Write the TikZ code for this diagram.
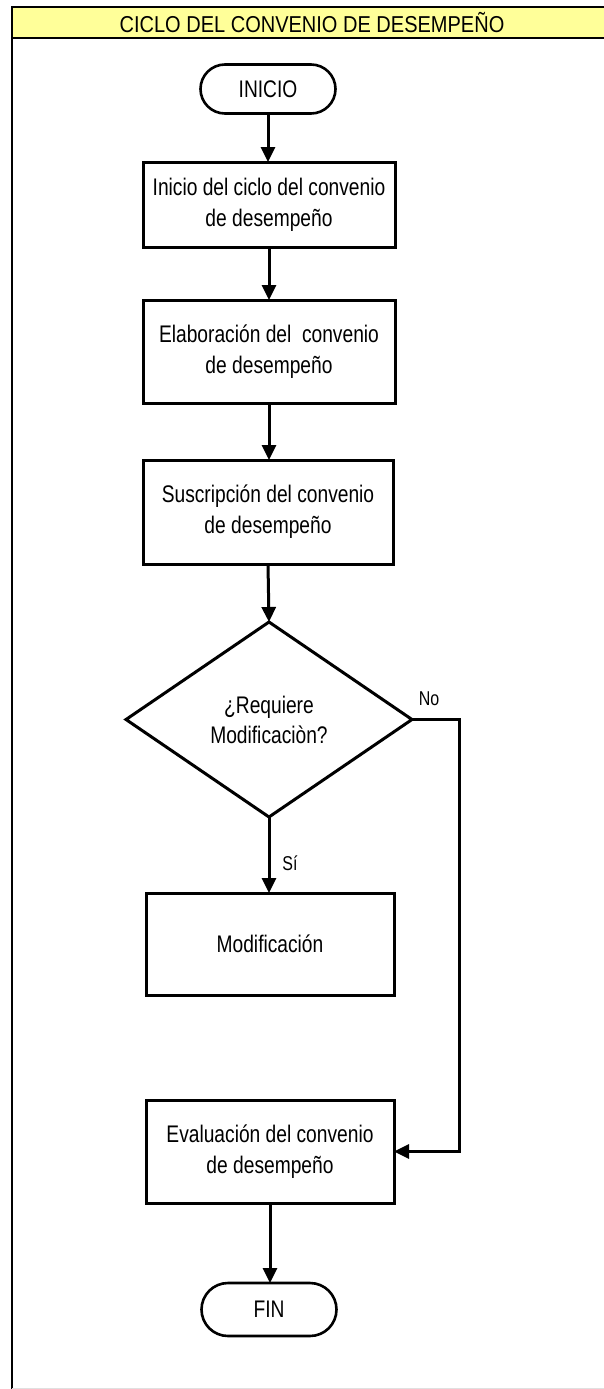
\documentclass[tikz,border=0pt]{standalone}
\usepackage{fontspec}
\setmainfont{Liberation Sans}
\newfontfamily\nar[FakeStretch=0.8]{Liberation Sans}
\newfontfamily\hdr[FakeStretch=0.87]{Liberation Sans}
\usetikzlibrary{arrows.meta,shapes.geometric,shapes.misc}
\definecolor{hdryellow}{RGB}{255,255,153}
\begin{document}
\begin{tikzpicture}[x=1pt,y=-1pt,
  every node/.style={inner sep=0pt, outer sep=0pt},
  procbox/.style={draw, line width=3pt, rectangle, fill=white,
    align=center, font=\nar\fontsize{24}{31}\selectfont},
  termbox/.style={draw, line width=2.6pt, rounded rectangle, fill=white,
    font=\nar\fontsize{24}{29}\selectfont},
  decbox/.style={draw, line width=3pt, diamond, fill=white, align=center,
    font=\nar\fontsize{24}{30}\selectfont},
  flow/.style={line width=3pt, -{Triangle[length=15pt,width=14pt]}},
  lbl/.style={font=\nar\fontsize{20}{24}\selectfont},
]
\useasboundingbox (0,0) rectangle (604,1389);
\fill[white] (0,0) rectangle (604,1389);

% frame and title band
\fill[hdryellow] (12,7) rectangle (604,38);
\draw[line width=2pt] (604,7) -- (12,7) -- (12,1389);
\draw[line width=2pt] (12,38) -- (604,38);
\draw[black!12, line width=1pt] (12,1388.5) -- (604,1388.5);
\node[font=\hdr\fontsize{23}{27}\selectfont] (title) at (312,22.5)
  {CICLO DEL CONVENIO DE DESEMPEÑO};

% steps
\node[termbox, minimum width=135pt, minimum height=49pt] (ini) at (268,89) {INICIO};
\node[procbox, minimum width=252pt, minimum height=85pt] (b1) at (269,204.5)
  {Inicio del ciclo del convenio\\de desempeño};
\node[procbox, minimum width=252pt, minimum height=103pt] (b2) at (269,351.5)
  {Elaboración del\ \ convenio\\de desempeño};
\node[procbox, minimum width=250pt, minimum height=104pt] (b3) at (268,512)
  {Suscripción del convenio\\de desempeño};
\node[decbox, minimum width=286pt, minimum height=195pt] (q) at (269,719.5)
  {¿Requiere\\Modificaciòn?};
\node[procbox, minimum width=248pt, minimum height=102pt] (mod) at (270,944)
  {Modificación};
\node[procbox, minimum width=248pt, minimum height=103pt] (eva) at (270,1151.5)
  {Evaluación del convenio\\de desempeño};
\node[termbox, minimum width=135pt, minimum height=53pt] (fin) at (269,1309.5) {FIN};

% connectors
\coordinate (nocorner) at (459,719.5);
\draw[flow] (ini.south) -- (ini.south |- b1.north);
\draw[flow] (b1.south) -- (b1.south |- b2.north);
\draw[flow] (b2.south) -- (b2.south |- b3.north);
\draw[flow] (b3.south) -- (q.north);
\draw[flow] (q.south) -- (q.south |- mod.north);
\draw[flow] (q.east) -- (nocorner) |- (eva.east);
\draw[flow] (eva.south) -- (eva.south |- fin.north);

% branch labels
\node[lbl] (si) at (290,863) {Sí};
\node[lbl] (no) at (429,699) {No};
\end{tikzpicture}
\end{document}
